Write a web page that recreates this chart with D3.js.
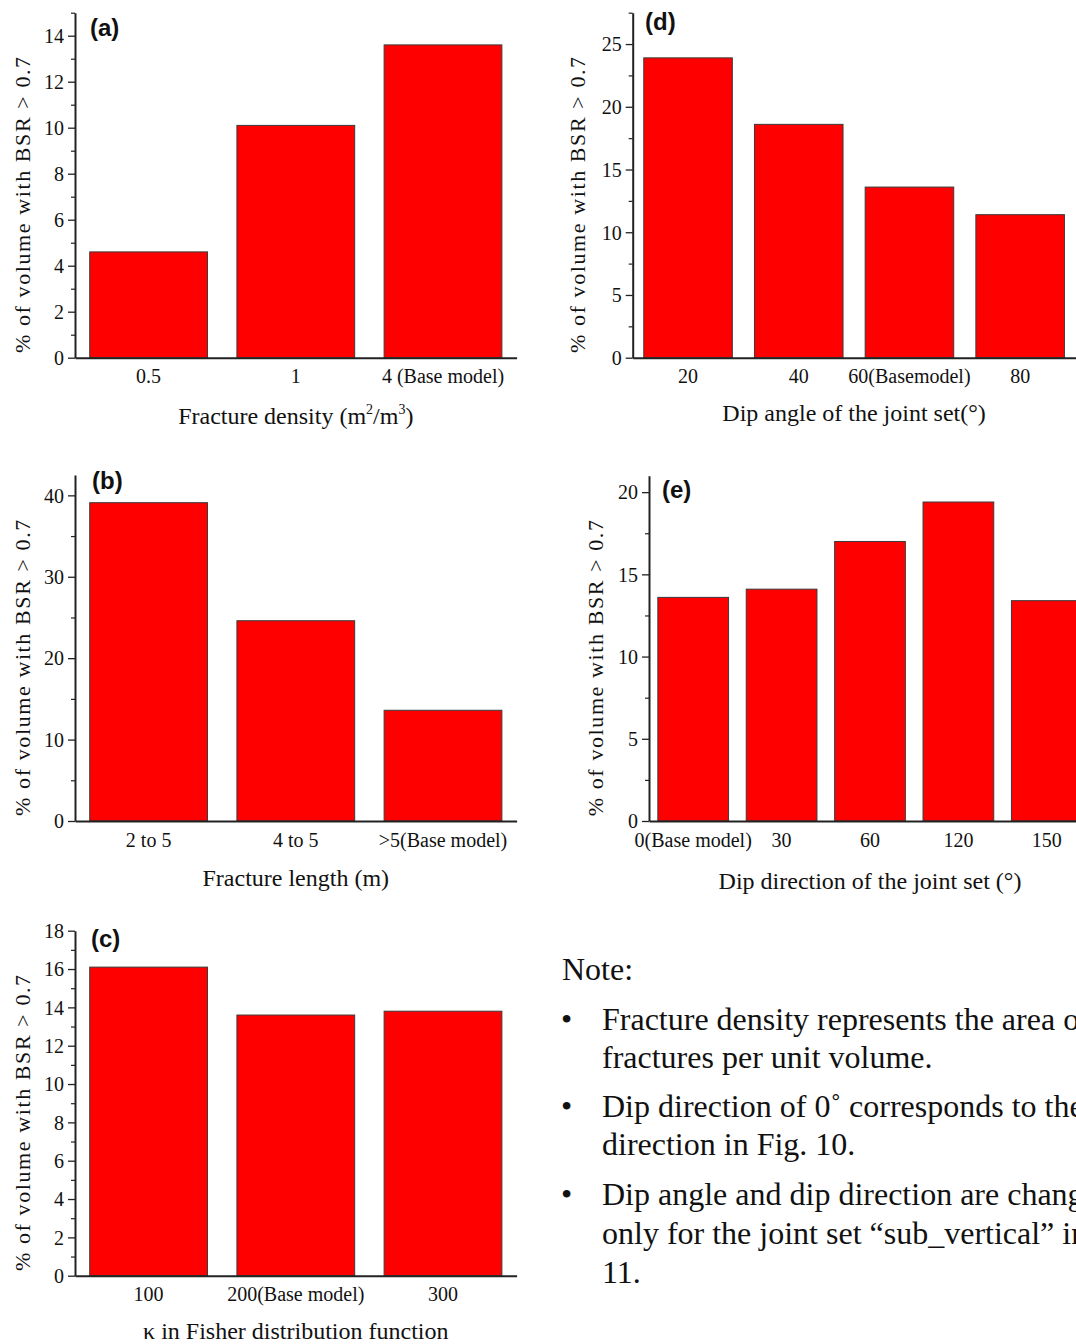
<!DOCTYPE html>
<html>
<head>
<meta charset="utf-8">
<script src="https://cdn.jsdelivr.net/npm/d3@7"></script>
<style>
  html, body { margin: 0; padding: 0; background: #fff; }
  svg { display: block; }
  text { font-family: "Liberation Serif", "Times New Roman", serif; fill: #111; }
  text.panel-tag { font-family: "Liberation Sans", Arial, sans-serif; font-weight: bold; }
</style>
</head>
<body>
<svg id="fig" width="1076" height="1344"></svg>
<script>
// ---- data ----
const densityCats = ["0.5", "1", "4 (Base model)"];
const densityVals = [4.6, 10.1, 13.6];
const densityTicks = [0, 2, 4, 6, 8, 10, 12, 14];

const lengthCats = ["2 to 5", "4 to 5", ">5(Base model)"];
const lengthVals = [39.1, 24.6, 13.6];
const lengthTicks = [0, 10, 20, 30, 40];

const kappaCats = ["100", "200(Base model)", "300"];
const kappaVals = [16.1, 13.6, 13.8];
const kappaTicks = [0, 2, 4, 6, 8, 10, 12, 14, 16, 18];

const dipAngleCats = ["20", "40", "60(Basemodel)", "80"];
const dipAngleVals = [23.9, 18.6, 13.6, 11.4];
const dipAngleTicks = [0, 5, 10, 15, 20, 25];

const dipDirCats = ["0(Base model)", "30", "60", "120", "150"];
const dipDirVals = [13.6, 14.1, 17.0, 19.4, 13.4];
const dipDirTicks = [0, 5, 10, 15, 20];

const yTitle = "% of volume with BSR > 0.7";

const noteLines = [
  { bullet: false, text: "Note:" },
  { bullet: true,  text: "Fracture density represents the area of" },
  { bullet: false, text: "fractures per unit volume." },
  { bullet: true,  text: "Dip direction of 0\u02DA corresponds to the" },
  { bullet: false, text: "direction in Fig. 10." },
  { bullet: true,  text: "Dip angle and dip direction are changed" },
  { bullet: false, text: "only for the joint set \u201Csub_vertical\u201D in" },
  { bullet: false, text: "11." }
];

// ---- layout of the five panels ----
const panels = [
  { tag: "(a)", cats: densityCats, vals: densityVals, ticks: densityTicks, minor: 1, yMax: 15,
    x0: 75, x1: 516.6, base: 357.7, top: 12.7, tagX: 90, tagY: 36, ylabX: 22,
    title: [{t: "Fracture density (m"}, {t: "2", sup: true}, {t: "/m"}, {t: "3", sup: true}, {t: ")"}], titleY: 424 },
  { tag: "(b)", cats: lengthCats, vals: lengthVals, ticks: lengthTicks, minor: 5, yMax: 42.5,
    x0: 75, x1: 516.6, base: 821, top: 475, tagX: 92, tagY: 489, ylabX: 22,
    title: [{t: "Fracture length (m)"}], titleY: 886 },
  { tag: "(c)", cats: kappaCats, vals: kappaVals, ticks: kappaTicks, minor: 1, yMax: 18,
    x0: 75, x1: 516.6, base: 1275.7, top: 930.7, tagX: 91, tagY: 947, ylabX: 22,
    title: [{t: "\u03BA in Fisher distribution function"}], titleY: 1339 },
  { tag: "(d)", cats: dipAngleCats, vals: dipAngleVals, ticks: dipAngleTicks, minor: 2.5, yMax: 27.5,
    x0: 632.7, x1: 1075.5, base: 357.7, top: 12.7, tagX: 645, tagY: 30, ylabX: 577,
    title: [{t: "Dip angle of the joint set(\u00B0)"}], titleY: 421 },
  { tag: "(e)", cats: dipDirCats, vals: dipDirVals, ticks: dipDirTicks, minor: 2.5, yMax: 21,
    x0: 649, x1: 1091, base: 821, top: 475.7, tagX: 662, tagY: 498, ylabX: 595,
    title: [{t: "Dip direction of the joint set (\u00B0)"}], titleY: 889 }
];

const svg = d3.select("#fig");

panels.forEach(p => {
  const g = svg.append("g");

  const x = d3.scaleBand()
    .domain(p.cats)
    .range([p.x0, p.x1])
    .paddingInner(0.2)
    .paddingOuter(0.1);

  const y = d3.scaleLinear()
    .domain([0, p.yMax])
    .range([p.base, p.top]);

  // bars
  g.append("g").selectAll("rect")
    .data(p.cats.map((c, i) => ({ c, v: p.vals[i] })))
    .join("rect")
    .attr("x", d => x(d.c))
    .attr("width", x.bandwidth())
    .attr("y", d => y(d.v))
    .attr("height", d => y(0) - y(d.v))
    .attr("fill", "#ff0000")
    .attr("stroke", "#3a3a3a")
    .attr("stroke-width", 1);

  // minor ticks on the value axis
  const minors = d3.range(0, p.yMax + 1e-9, p.minor).filter(v => !p.ticks.some(t => Math.abs(t - v) < 1e-9));
  const minorAxis = g.append("g")
    .attr("transform", `translate(${p.x0},0)`)
    .call(d3.axisLeft(y).tickValues(minors).tickSize(4).tickFormat(""));
  minorAxis.select(".domain").remove();
  minorAxis.selectAll("line").attr("stroke", "#222").attr("stroke-width", 1.2);

  // major ticks + axis line
  const yAxis = g.append("g")
    .attr("transform", `translate(${p.x0},0)`)
    .call(d3.axisLeft(y).tickValues(p.ticks).tickSizeInner(7).tickSizeOuter(0).tickPadding(4).tickFormat(d3.format("d")));
  yAxis.select(".domain").attr("stroke", "#222").attr("stroke-width", 2);
  yAxis.selectAll(".tick line").attr("stroke", "#222").attr("stroke-width", 1.3);
  yAxis.selectAll(".tick text")
    .attr("font-size", 20)
    .attr("fill", "#111")
    .attr("dy", "0.34em");

  // category axis
  const xAxis = g.append("g")
    .attr("transform", `translate(0,${p.base})`)
    .call(d3.axisBottom(x).tickSizeInner(0).tickSizeOuter(0));
  xAxis.select(".domain").attr("stroke", "#222").attr("stroke-width", 2);
  xAxis.selectAll(".tick line").remove();
  xAxis.selectAll(".tick text")
    .attr("y", 25.5)
    .attr("dy", 0)
    .attr("font-size", 20)
    .attr("fill", "#111");

  // value-axis title
  const yMid = (p.base + p.top) / 2 + 19;
  g.append("text")
    .attr("transform", `translate(${p.ylabX},${yMid}) rotate(-90)`)
    .attr("text-anchor", "middle")
    .attr("dominant-baseline", "central")
    .attr("font-size", 22)
    .attr("letter-spacing", "1.6px")
    .text(yTitle);

  // category-axis title (with superscripts where needed)
  const t = g.append("text")
    .attr("x", (p.x0 + p.x1) / 2)
    .attr("y", p.titleY)
    .attr("text-anchor", "middle")
    .attr("font-size", 24);
  let raised = false;
  p.title.forEach(part => {
    const s = t.append("tspan").text(part.t);
    if (part.sup && !raised) { s.attr("dy", -10).attr("font-size", 14); raised = true; }
    else if (part.sup) { s.attr("font-size", 14); }
    else if (raised) { s.attr("dy", 10); raised = false; }
  });

  // panel tag
  g.append("text")
    .attr("class", "panel-tag")
    .attr("x", p.tagX)
    .attr("y", p.tagY)
    .attr("font-size", 24)
    .text(p.tag);
});

// ---- note block ----
const note = svg.append("g");
const lineYs = [980, 1030, 1068, 1117, 1155, 1205, 1244, 1283];
const noteSize = 32;
noteLines.forEach((ln, i) => {
  if (i === 0) {
    note.append("text").attr("x", 562).attr("y", lineYs[i]).attr("font-size", noteSize).text(ln.text);
    return;
  }
  if (ln.bullet) {
    note.append("text").attr("x", 561).attr("y", lineYs[i]).attr("font-size", noteSize).text("\u2022");
  }
  note.append("text").attr("x", 602).attr("y", lineYs[i]).attr("font-size", noteSize).text(ln.text);
});
</script>
</body>
</html>
